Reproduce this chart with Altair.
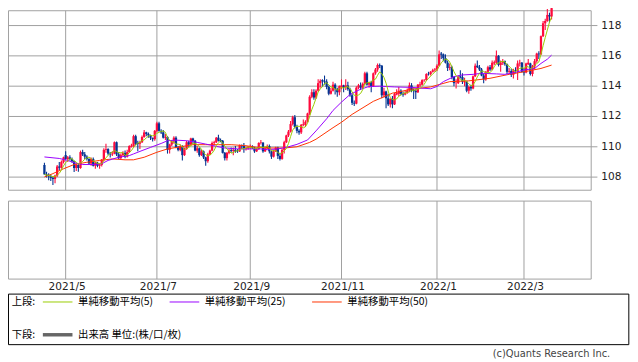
import altair as alt
import pandas as pd
import numpy as np

# ---------------- data (daily candles: open, high, low, close) ----------------
apr_2021 = [
    (108.80, 108.95, 108.15, 108.18), (108.18, 108.35, 107.98, 108.10), (108.10, 108.25, 107.80, 108.05),
    (108.05, 108.18, 107.75, 107.95), (107.95, 108.05, 107.48, 107.88), (107.88, 108.15, 107.60, 108.10),
    (108.10, 108.80, 108.00, 108.70), (108.70, 109.00, 108.45, 108.62), (108.62, 109.10, 108.55, 109.00),
    (109.00, 109.35, 108.90, 109.30),
]
may_2021 = [
    (109.45, 109.70, 109.15, 109.20), (109.20, 109.40, 109.00, 109.30), (109.30, 109.45, 109.10, 109.20),
    (109.20, 109.30, 108.95, 109.05), (109.05, 109.10, 108.34, 108.60), (108.60, 108.90, 108.40, 108.80),
    (108.80, 108.90, 108.35, 108.60), (108.60, 109.75, 108.55, 109.65), (109.65, 109.80, 109.40, 109.50),
    (109.50, 109.65, 109.20, 109.35), (109.35, 109.45, 109.10, 109.20), (109.20, 109.25, 108.80, 108.90),
    (108.90, 109.30, 108.75, 109.20), (109.20, 109.30, 108.70, 108.75), (108.75, 109.00, 108.55, 108.95),
    (108.95, 109.00, 108.65, 108.75), (108.75, 108.90, 108.55, 108.80), (108.80, 109.20, 108.70, 109.15),
    (109.15, 109.90, 109.05, 109.80), (109.80, 110.20, 109.60, 109.85), (109.85, 109.90, 109.45, 109.55),
]
jun_2021 = [
    (109.55, 109.65, 109.30, 109.50), (109.50, 109.70, 109.40, 109.55), (109.55, 110.35, 109.50, 110.30),
    (110.30, 110.35, 109.40, 109.50), (109.50, 109.65, 109.20, 109.25), (109.25, 109.55, 109.20, 109.45),
    (109.45, 109.70, 109.40, 109.60), (109.60, 109.75, 109.25, 109.35), (109.35, 109.80, 109.30, 109.65),
    (109.65, 110.10, 109.60, 110.05), (110.00, 110.20, 109.95, 110.08), (110.05, 110.80, 109.95, 110.70),
    (110.70, 110.80, 110.10, 110.20), (110.25, 110.40, 109.70, 110.18), (110.20, 110.40, 109.85, 110.30),
    (110.30, 110.75, 110.25, 110.65), (110.65, 111.10, 110.60, 110.95), (110.95, 111.00, 110.70, 110.85),
    (110.85, 110.95, 110.60, 110.75), (110.75, 110.80, 110.45, 110.60), (110.60, 110.60, 110.35, 110.50),
    (110.50, 111.10, 110.40, 111.05),
]
jul_2021 = [
    (111.05, 111.66, 110.95, 111.55), (111.55, 111.65, 111.00, 111.05), (111.05, 111.15, 110.85, 110.95),
    (110.95, 111.10, 110.55, 110.60), (110.60, 110.85, 110.45, 110.65), (110.65, 110.70, 109.55, 109.80),
    (109.80, 110.20, 109.55, 110.15), (110.15, 110.45, 110.05, 110.35), (110.35, 110.70, 110.20, 110.60),
    (110.60, 110.70, 109.90, 109.95), (109.95, 110.05, 109.70, 109.80), (109.80, 110.15, 109.70, 110.05),
    (110.05, 110.10, 109.10, 109.45), (109.45, 109.95, 109.40, 109.85), (109.85, 110.40, 109.80, 110.30),
    (110.30, 110.40, 110.00, 110.15), (110.15, 110.60, 110.10, 110.55), (110.55, 110.60, 110.20, 110.40),
    (110.40, 110.45, 109.70, 109.75), (109.75, 110.05, 109.60, 109.90), (109.90, 109.95, 109.35, 109.45),
    (109.45, 109.80, 109.40, 109.70),
]
aug_2021 = [
    (109.70, 109.75, 109.20, 109.30), (109.30, 109.35, 108.75, 109.05), (109.05, 109.60, 108.95, 109.50),
    (109.50, 109.80, 109.45, 109.75), (109.75, 110.35, 109.70, 110.25), (110.25, 110.40, 110.10, 110.30),
    (110.30, 110.65, 110.25, 110.60), (110.60, 110.80, 110.35, 110.40), (110.45, 110.55, 110.30, 110.38),
    (110.40, 110.45, 109.55, 109.60), (109.60, 109.65, 109.10, 109.25), (109.25, 109.65, 109.10, 109.60),
    (109.60, 109.85, 109.50, 109.75), (109.78, 109.95, 109.60, 109.72), (109.72, 109.95, 109.45, 109.80),
    (109.80, 110.05, 109.60, 109.70), (109.70, 109.85, 109.60, 109.68), (109.70, 110.15, 109.65, 110.10),
    (110.10, 110.15, 109.85, 110.05), (110.05, 110.25, 109.60, 109.85), (109.85, 110.00, 109.75, 109.90),
    (109.90, 110.05, 109.80, 110.00),
]
sep_2021 = [
    (110.00, 110.15, 109.85, 110.02), (110.02, 110.10, 109.85, 109.90), (109.90, 110.00, 109.60, 109.70),
    (109.70, 109.90, 109.65, 109.85), (109.85, 110.30, 109.80, 110.25), (110.25, 110.45, 110.15, 110.28),
    (110.28, 110.30, 109.60, 109.70), (109.70, 110.00, 109.65, 109.90), (109.90, 110.15, 109.85, 110.05),
    (110.05, 110.15, 109.55, 109.70), (109.70, 109.75, 109.20, 109.35), (109.35, 109.80, 109.30, 109.70),
    (109.70, 110.00, 109.65, 109.95), (109.95, 110.00, 109.20, 109.40), (109.40, 109.60, 109.10, 109.20),
    (109.20, 109.85, 109.15, 109.80), (109.80, 110.40, 109.55, 110.30), (110.30, 110.80, 110.25, 110.75),
    (110.75, 111.10, 110.65, 111.00), (111.00, 111.70, 110.95, 111.50), (111.50, 112.05, 111.40, 111.95),
    (111.95, 112.10, 111.20, 111.30),
]
oct_2021 = [
    (111.30, 111.45, 110.90, 111.05), (111.05, 111.15, 110.80, 110.95), (110.95, 111.50, 110.85, 111.45),
    (111.45, 111.80, 111.35, 111.50), (111.45, 111.75, 111.30, 111.65), (111.65, 112.25, 111.60, 112.20),
    (112.20, 113.40, 112.10, 113.30), (113.30, 113.80, 113.20, 113.60), (113.60, 113.80, 113.10, 113.25),
    (113.25, 113.80, 113.15, 113.70), (113.70, 114.45, 113.65, 114.20), (114.20, 114.45, 113.90, 114.35),
    (114.40, 114.45, 113.95, 114.32), (114.35, 114.70, 114.10, 114.30), (114.30, 114.45, 113.80, 113.95),
    (113.95, 114.05, 113.40, 113.50), (113.50, 113.90, 113.45, 113.70), (113.70, 114.30, 113.65, 114.10),
    (114.10, 114.20, 113.45, 113.80), (113.80, 113.90, 113.30, 113.60), (113.60, 114.05, 113.40, 114.00),
]
nov_2021 = [
    (113.90, 114.45, 113.80, 114.05), (114.05, 114.10, 113.60, 113.95), (113.95, 114.45, 113.75, 114.05),
    (114.05, 114.30, 113.70, 113.80), (113.80, 113.90, 113.30, 113.40), (113.40, 113.50, 112.75, 112.90),
    (112.90, 113.05, 112.70, 112.85), (112.85, 114.00, 112.80, 113.90), (113.90, 114.15, 113.80, 114.05),
    (114.05, 114.25, 113.75, 113.90), (113.90, 114.25, 113.80, 114.15), (114.15, 114.95, 114.10, 114.85),
    (114.85, 114.95, 114.05, 114.10), (114.10, 114.30, 113.90, 114.25), (114.25, 114.35, 113.60, 114.00),
    (114.00, 114.90, 113.95, 114.85), (114.85, 115.20, 114.75, 115.10), (115.10, 115.50, 114.95, 115.40),
    (115.40, 115.50, 115.20, 115.35), (115.35, 115.40, 113.20, 113.40), (113.40, 113.90, 113.25, 113.65),
    (113.65, 113.70, 112.55, 113.20),
]
dec_2021 = [
    (113.20, 113.50, 112.70, 112.80), (112.80, 113.20, 112.60, 113.15), (113.15, 113.35, 112.55, 112.80),
    (112.80, 113.55, 112.75, 113.50), (113.45, 113.80, 113.40, 113.55), (113.50, 113.95, 113.35, 113.70),
    (113.70, 113.80, 113.40, 113.50), (113.50, 113.65, 113.30, 113.45), (113.45, 113.70, 113.40, 113.55),
    (113.55, 113.85, 113.50, 113.70), (113.70, 114.25, 113.60, 114.05), (114.05, 114.20, 113.60, 113.70),
    (113.75, 113.85, 113.15, 113.68), (113.70, 113.80, 113.15, 113.60), (113.60, 114.15, 113.55, 114.10),
    (114.05, 114.30, 113.95, 114.12), (114.10, 114.45, 114.05, 114.40), (114.40, 114.45, 114.30, 114.42),
    (114.40, 114.85, 114.35, 114.80), (114.82, 114.95, 114.70, 114.78), (114.80, 115.00, 114.70, 114.95),
    (114.95, 115.15, 114.90, 115.05), (115.05, 115.20, 114.95, 115.10),
]
jan_2022 = [
    (115.10, 115.45, 115.00, 115.35), (115.35, 116.35, 115.30, 116.10), (116.15, 116.25, 115.80, 116.08),
    (116.10, 116.15, 115.65, 115.85), (115.85, 116.10, 115.50, 115.55), (115.55, 115.70, 115.00, 115.20),
    (115.20, 115.50, 115.05, 115.25), (115.25, 115.35, 114.45, 114.60), (114.60, 114.65, 114.00, 114.20),
    (114.20, 114.45, 113.85, 114.22), (114.20, 114.70, 114.15, 114.60), (114.65, 115.05, 114.50, 114.58),
    (114.60, 114.85, 114.15, 114.30), (114.25, 114.55, 114.00, 114.32), (114.30, 114.35, 113.60, 113.70),
    (113.70, 114.05, 113.50, 113.95), (113.95, 114.10, 113.70, 113.85), (113.85, 114.70, 113.80, 114.65),
    (114.65, 115.50, 114.60, 115.35), (115.35, 115.70, 115.20, 115.25), (115.25, 115.40, 115.00, 115.10),
]
feb_2022 = [
    (115.10, 115.20, 114.65, 114.70), (114.70, 114.80, 114.20, 114.45), (114.45, 115.00, 114.35, 114.95),
    (114.95, 115.35, 114.80, 115.25), (115.25, 115.40, 115.00, 115.10), (115.10, 115.70, 115.05, 115.55),
    (115.50, 115.70, 115.40, 115.58), (115.55, 116.35, 115.45, 116.00), (116.00, 116.05, 115.30, 115.40),
    (115.40, 115.70, 114.95, 115.55), (115.55, 115.80, 115.40, 115.65), (115.65, 115.70, 115.35, 115.45),
    (115.45, 115.50, 114.80, 114.95), (114.95, 115.20, 114.85, 115.00), (115.00, 115.15, 114.60, 114.75),
    (114.75, 115.15, 114.50, 115.05), (115.05, 115.25, 114.85, 115.00), (115.00, 115.70, 114.40, 115.50),
    (115.50, 115.75, 115.30, 115.55), (115.55, 115.60, 114.90, 114.95),
]
mar_2022 = [
    (114.95, 115.20, 114.70, 114.90), (114.90, 115.55, 114.85, 115.50), (115.45, 115.80, 115.40, 115.55),
    (115.50, 115.55, 114.70, 114.80), (114.80, 115.40, 114.65, 115.30), (115.30, 115.80, 115.10, 115.65),
    (115.65, 116.20, 115.55, 116.15), (116.15, 116.30, 115.80, 116.10), (116.10, 117.35, 116.05, 117.30),
    (117.30, 118.30, 117.25, 118.15), (118.15, 118.45, 117.70, 118.30), (118.30, 119.10, 118.25, 118.70),
    (118.70, 118.85, 118.20, 118.60), (118.60, 119.40, 118.40, 119.15),
]

# moving averages (trading-day number, value)
ma25_day = [0, 7, 11, 14, 18, 23, 27, 30, 35, 40, 42, 46, 50, 55, 58, 62, 67, 72, 76, 81, 85, 91, 97, 102,
            105, 110, 114, 119, 124, 128, 133, 136, 140, 144, 149, 153, 158, 165, 173, 182, 185, 188, 193,
            197, 202, 206, 213, 217, 222, 226, 231, 234, 237, 239]
ma25_val = [109.33, 109.23, 109.10, 108.95, 108.83, 108.83, 108.88, 109.10, 109.31, 109.42, 109.53, 109.75,
            109.96, 110.22, 110.40, 110.44, 110.40, 110.29, 110.18, 110.03, 109.92, 109.86, 109.86, 109.86,
            109.81, 109.86, 109.96, 110.16, 110.45, 111.05, 111.85, 112.40, 112.95, 113.45, 113.80, 113.98,
            114.00, 113.95, 113.92, 113.83, 113.98, 114.30, 114.63, 114.74, 114.78, 114.85, 114.81, 114.78,
            114.91, 115.07, 115.17, 115.50, 115.78, 116.05]
ma50_day = [0, 4, 9, 14, 20, 26, 32, 38, 42, 47, 53, 58, 64, 70, 76, 82, 88, 95, 100, 106, 113, 119, 125,
            128, 136, 140, 145, 155, 164, 173, 182, 191, 200, 210, 219, 228, 234, 239]
ma50_val = [108.01, 108.23, 108.55, 108.83, 108.98, 109.10, 109.20, 109.14, 109.14, 109.31, 109.64, 109.86,
            110.00, 110.14, 110.14, 110.14, 110.14, 110.07, 109.96, 109.92, 109.92, 110.00, 110.29, 110.50,
            111.26, 111.62, 112.14, 113.00, 113.54, 113.80, 113.95, 114.30, 114.35, 114.52, 114.78, 115.00,
            115.17, 115.39]

y_ticks = [108, 110, 112, 114, 116, 118]
x_tick_labels = ["2021/5", "2021/7", "2021/9", "2021/11", "2022/1", "2022/3"]
legend_labels = ["単純移動平均(5)", "単純移動平均(25)", "単純移動平均(50)"]

# ---------------- tables ----------------
ohlc = (apr_2021 + may_2021 + jun_2021 + jul_2021 + aug_2021 + sep_2021 + oct_2021 + nov_2021
        + dec_2021 + jan_2022 + feb_2022 + mar_2022)
df = pd.DataFrame(ohlc, columns=["open", "high", "low", "close"])
n = len(df)
dates = pd.bdate_range("2021-04-19", periods=n)
df["i"] = np.arange(n)
df["dir"] = np.where(df["close"] >= df["open"], "up", "down")

month_key = [f"{d.year}/{d.month}" for d in dates]
grid_idx = [month_key.index(lbl) for lbl in x_tick_labels]
grid_df = pd.DataFrame({"i": grid_idx, "label": x_tick_labels})
ytick_df = pd.DataFrame({"p": y_ticks, "label": [str(v) for v in y_ticks]})
ma25_df = pd.DataFrame({"i": ma25_day, "v": ma25_val})
ma50_df = pd.DataFrame({"i": ma50_day, "v": ma50_val})
one = pd.DataFrame({"k": [0]})

# ---------------- scales ----------------
W, H = 630, 354
xs = alt.Scale(domain=[-14.84, 273.63], nice=False, zero=False)
ys = alt.Scale(domain=[95.948, 119.010], nice=False, zero=False)
cs = alt.Scale(domain=["up", "down"], range=["#ff0a3c", "#053592"])


def X(f="i"):
    return alt.X(f"{f}:Q", scale=xs, axis=None)


def Y(f):
    return alt.Y(f"{f}:Q", scale=ys, axis=None)


V = alt.value
GRID = "#a0a0a0"
NUM_FONT = "DejaVu Sans"
JP_FONT = "Noto Sans CJK JP"

layers = []

# panel frames
layers.append(alt.Chart(one).mark_rect(fillOpacity=0, stroke=GRID, strokeWidth=1).encode(
    x=V(0.5), x2=V(590.7), y=V(0.5), y2=V(182.3)))
layers.append(alt.Chart(one).mark_rect(fillOpacity=0, stroke=GRID, strokeWidth=1).encode(
    x=V(0.5), x2=V(590.7), y=V(193.3), y2=V(272.3)))
layers.append(alt.Chart(one).mark_rect(fillOpacity=0, stroke="#000000", strokeWidth=1).encode(
    x=V(0.5), x2=V(628.8), y=V(287.5), y2=V(338.7)))

# horizontal grid + ticks
layers.append(alt.Chart(ytick_df).mark_rule(color=GRID, strokeWidth=1).encode(
    y=Y("p"), x=V(0.5), x2=V(597)))
# vertical grid (upper and lower panel)
layers.append(alt.Chart(grid_df).mark_rule(color=GRID, strokeWidth=1).encode(
    x=X(), y=V(0.5), y2=V(182.3)))
layers.append(alt.Chart(grid_df).mark_rule(color=GRID, strokeWidth=1).encode(
    x=X(), y=V(193.3), y2=V(272.3)))

# candles
base = alt.Chart(df)
layers.append(base.mark_rule(strokeWidth=1.1).encode(
    x=X(), y=Y("low"), y2="high:Q", color=alt.Color("dir:N", scale=cs, legend=None)))
layers.append(base.mark_bar(size=2.3).encode(
    x=X(), y=Y("open"), y2="close:Q", color=alt.Color("dir:N", scale=cs, legend=None)))

# moving averages
layers.append(alt.Chart(ma50_df).mark_line(color="#ff3300", strokeWidth=1).encode(x=X(), y=Y("v")))
layers.append(alt.Chart(ma25_df).mark_line(color="#9900ff", strokeWidth=1).encode(x=X(), y=Y("v")))
layers.append(base.transform_window(
    ma5="mean(close)", frame=[-4, 0], sort=[{"field": "i"}]
).mark_line(color="#99cc00", strokeWidth=1).encode(x=X(), y=Y("ma5")))

# axis labels
layers.append(alt.Chart(ytick_df).mark_text(
    align="left", baseline="middle", font=NUM_FONT, fontSize=10.7, color="#222222").encode(
    y=Y("p"), x=V(601), text="label:N"))
layers.append(alt.Chart(grid_df).mark_text(
    align="center", baseline="middle", font=NUM_FONT, fontSize=10.7, color="#222222", dx=1.5).encode(
    x=X(), y=V(280.5), text="label:N"))

# legend box content
leg_colors = ["#99cc00", "#9900ff", "#ff3300"]
leg_x = [35.3, 163.7, 308.0]
for lbl, col, lx in zip(legend_labels, leg_colors, leg_x):
    layers.append(alt.Chart(one).mark_rule(color=col, strokeWidth=1).encode(
        x=V(lx), x2=V(lx + 30), y=V(295.5)))
    layers.append(alt.Chart(one).mark_text(
        align="left", baseline="middle", font=JP_FONT, fontSize=10.5, color="#000000").encode(
        x=V(lx + 35.7), y=V(295.5), text=V(lbl)))
layers.append(alt.Chart(one).mark_text(
    align="left", baseline="middle", font=JP_FONT, fontSize=10.5, color="#000000").encode(
    x=V(3.7), y=V(295.5), text=V("上段:")))
layers.append(alt.Chart(one).mark_text(
    align="left", baseline="middle", font=JP_FONT, fontSize=10.5, color="#000000").encode(
    x=V(3.7), y=V(328.7), text=V("下段:")))
layers.append(alt.Chart(one).mark_rule(color="#666666", strokeWidth=3.5).encode(
    x=V(35.3), x2=V(65.3), y=V(328.7)))
layers.append(alt.Chart(one).mark_text(
    align="left", baseline="middle", font=JP_FONT, fontSize=10.5, color="#000000").encode(
    x=V(71), y=V(328.7), text=V("出来高 単位:(株/口/枚)")))

# copyright
layers.append(alt.Chart(one).mark_text(
    align="right", baseline="middle", font=NUM_FONT, fontSize=10, color="#444444").encode(
    x=V(610), y=V(348), text=V("(c)Quants Research Inc.")))

chart = alt.layer(*layers).properties(
    width=W, height=H, autosize=alt.AutoSizeParams(type="none"), padding=0,
    background="#ffffff",
).configure_view(stroke=None)

chart.save("out.html", embed_options={"renderer": "svg", "actions": False})
